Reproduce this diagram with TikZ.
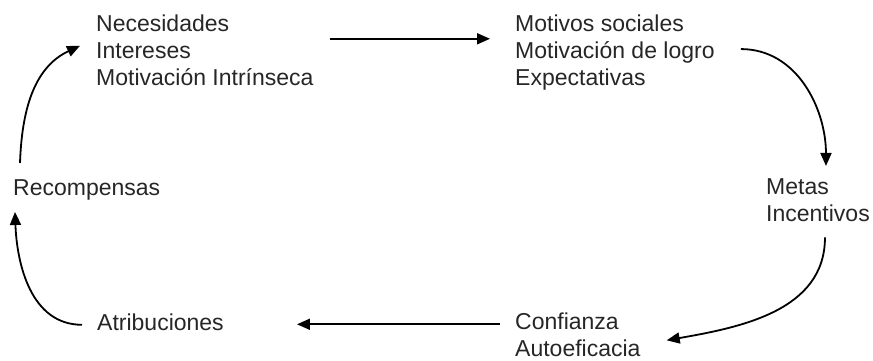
\documentclass[tikz,border=0pt]{standalone}
\usepackage{fontspec}
\setmainfont{Liberation Sans}
\usetikzlibrary{arrows.meta}

\begin{document}
\begin{tikzpicture}[x=1pt,y=-1pt,
  lbl/.style={anchor=base west, inner sep=0pt, align=left, text=black!85,
    font=\fontsize{23}{27}\selectfont},
  arr/.style={black, line width=1.8pt, -{Triangle[length=13pt,width=11pt]}}]
\useasboundingbox (0,0) rectangle (873,360);
% base of a node of several lines = its last line
\node [lbl] (needs) at (96,85) {Necesidades\\Intereses\\Motivación Intrínseca};
\node [lbl] (motives) at (515,85) {Motivos sociales\\Motivación de logro\\Expectativas};
\node [lbl] (goals) at (766,221) {Metas\\Incentivos};
\node [lbl] (trust) at (515,356) {Confianza\\Autoeficacia};
\node [lbl] (attrib) at (97,330) {Atribuciones};
\node [lbl] (reward) at (13,195) {Recompensas};
\draw [arr] ([shift={(16,-11)}]needs.east) coordinate (n0) -- ([xshift=-25pt]motives.west |- n0);
\draw [arr] ([shift={(26,-3)}]motives.east) to[out=0,in=90] ([shift={(8,-12)}]goals.north);
\draw [arr] ([shift={(7,16)}]goals.south) to[out=-90,in=10] ([shift={(26,6)}]trust.east);
\draw [arr] ([shift={(-15,-10)}]trust.west) coordinate (t0) -- ([xshift=73pt]attrib.east |- t0);
\draw [arr] ([shift={(-15,3)}]attrib.west) to[out=180,in=-88] ([shift={(2,12)}]reward.south west);
\draw [arr] ([shift={(7,-16)}]reward.north west) to[out=88,in=205] ([shift={(-16,-4)}]needs.west);
\end{tikzpicture}
\end{document}
